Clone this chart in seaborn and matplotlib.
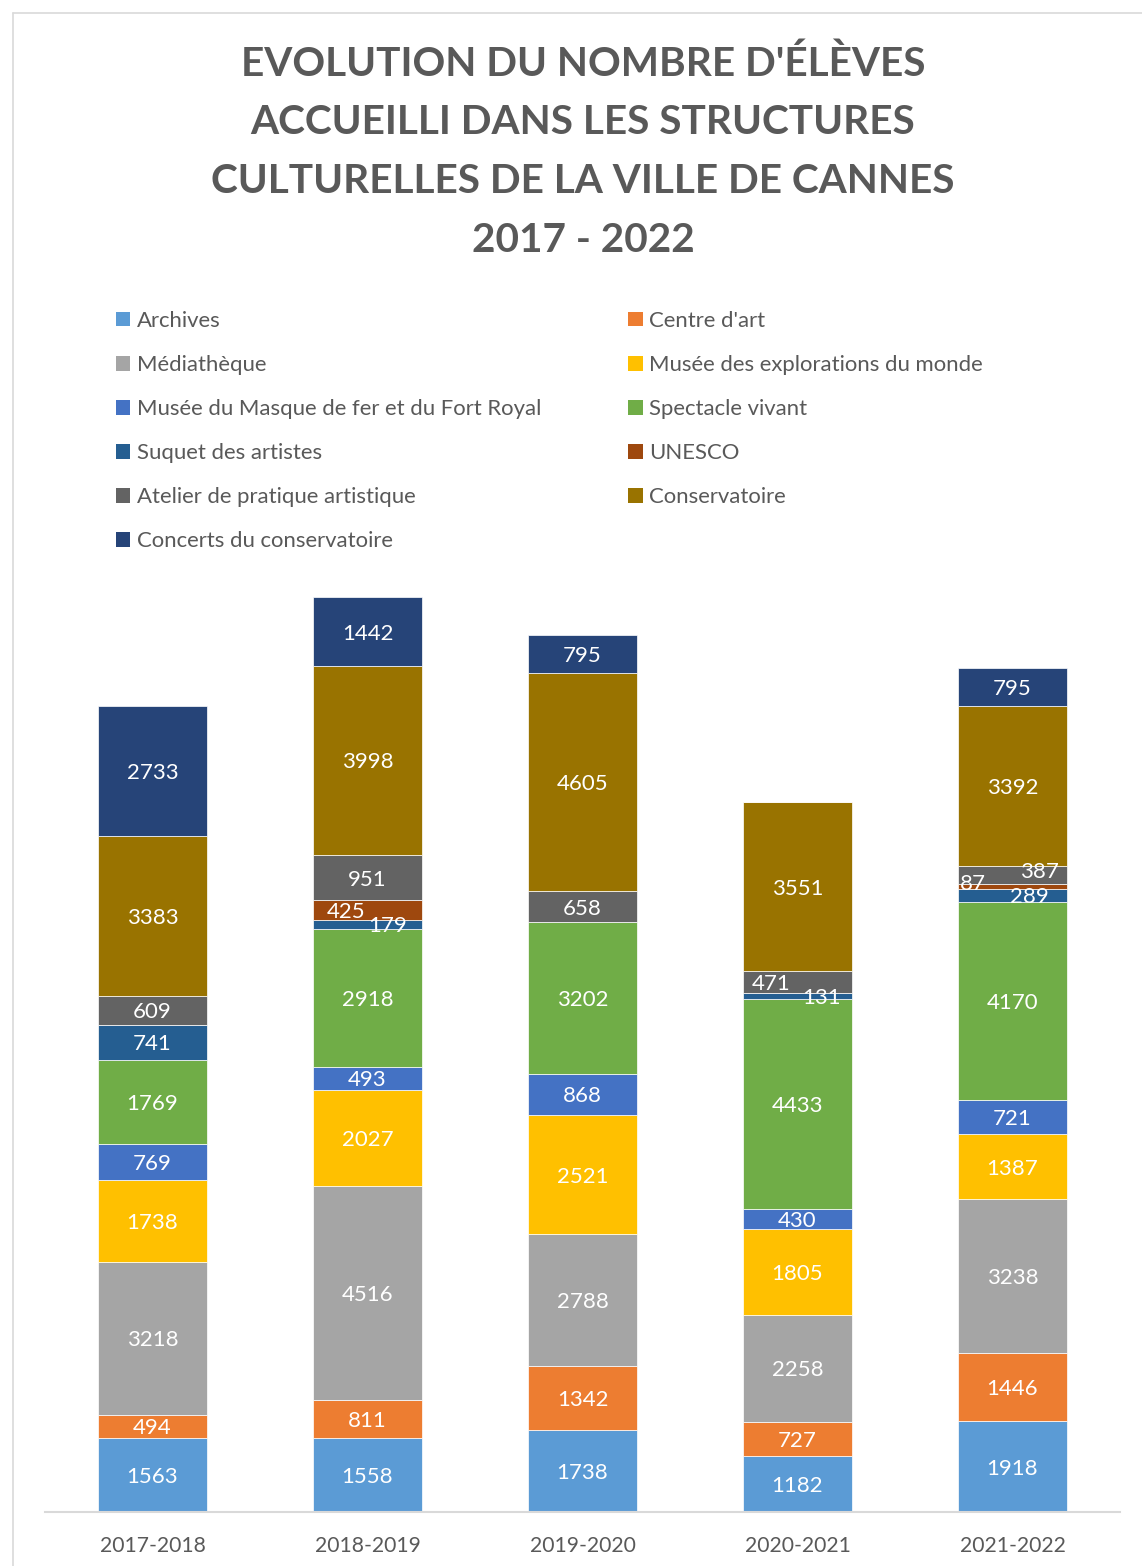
import numpy as np
import matplotlib
matplotlib.use("Agg")
import matplotlib.pyplot as plt
import seaborn as sns
from matplotlib.patches import Patch
from matplotlib.lines import Line2D

years = ["2017-2018", "2018-2019", "2019-2020", "2020-2021", "2021-2022"]

archives = [1563, 1558, 1738, 1182, 1918]
centre_art = [494, 811, 1342, 727, 1446]
mediatheque = [3218, 4516, 2788, 2258, 3238]
musee_explorations = [1738, 2027, 2521, 1805, 1387]
musee_masque = [769, 493, 868, 430, 721]
spectacle_vivant = [1769, 2918, 3202, 4433, 4170]
suquet = [741, 179, 0, 131, 289]
unesco = [0, 425, 0, 0, 87]
atelier = [609, 951, 658, 471, 387]
conservatoire = [3383, 3998, 4605, 3551, 3392]
concerts = [2733, 1442, 795, 0, 795]

series = [
    ("Archives", archives, "#5B9BD5"),
    ("Centre d'art", centre_art, "#ED7D31"),
    ("Médiathèque", mediatheque, "#A5A5A5"),
    ("Musée des explorations du monde", musee_explorations, "#FFC000"),
    ("Musée du Masque de fer et du Fort Royal", musee_masque, "#4472C4"),
    ("Spectacle vivant", spectacle_vivant, "#70AD47"),
    ("Suquet des artistes", suquet, "#255E91"),
    ("UNESCO", unesco, "#9E480E"),
    ("Atelier de pratique artistique", atelier, "#636363"),
    ("Conservatoire", conservatoire, "#997300"),
    ("Concerts du conservatoire", concerts, "#264478"),
]

# label nudges (pixels) for the thin segments, as in the original
nudges = {
    ("UNESCO", 1): (-21, 0),
    ("Suquet des artistes", 1): (20, 0),
    ("Atelier de pratique artistique", 3): (-26, 0),
    ("Suquet des artistes", 3): (24, 0),
    ("Suquet des artistes", 4): (17, 0),
    ("UNESCO", 4): (-40, 5),
    ("Atelier de pratique artistique", 4): (27, 5),
}

sns.set_style("white")
plt.rcParams["font.family"] = ["Lato", "DejaVu Sans"]
grey = "#595959"

W, H = 1142, 1566
fig = plt.figure(figsize=(W / 100, H / 100), dpi=100)
ax = fig.add_axes([45 / W, 1 - 1512 / H, (1120 - 45) / W, (1512 - 590) / H])

bottom = np.zeros(len(years))
for name, vals, color in series:
    vals = np.array(vals)
    sns.barplot(x=years, y=vals, bottom=bottom, color=color, saturation=1,
                width=0.51, edgecolor="white", linewidth=0.5, ax=ax, zorder=2)
    for j, v in enumerate(vals):
        if v <= 0:
            continue
        dx, dy = nudges.get((name, j), (0, 0))
        ax.annotate(str(v), (j, bottom[j] + v / 2), xytext=(dx, dy - 2),
                    textcoords="offset pixels", ha="center", va="center",
                    color="white", fontsize=16, zorder=5)
    bottom += vals

ax.set_xlim(-0.5, 4.5)
ax.set_ylim(0, 922 / 0.04734)
ax.set_yticks([])
ax.set_xlabel("")
ax.set_ylabel("")
for s in ["top", "left", "right"]:
    ax.spines[s].set_visible(False)
ax.spines["bottom"].set_color("#D9D9D9")
ax.spines["bottom"].set_linewidth(1.5)
ax.tick_params(axis="x", length=0, pad=17, labelsize=15.2, labelcolor=grey)

fig.text(583 / W, 1 - 152 / H,
         "EVOLUTION DU NOMBRE D'ÉLÈVES\nACCUEILLI DANS LES STRUCTURES\n"
         "CULTURELLES DE LA VILLE DE CANNES\n2017 - 2022",
         ha="center", va="center", fontsize=29.2, fontweight="bold",
         color=grey, linespacing=1.72)

# legend, filled row by row like the original
handles = [Patch(facecolor=c, edgecolor="none", label=n) for n, _, c in series]
order = list(range(0, len(series), 2)) + list(range(1, len(series), 2))
leg = fig.legend([handles[i] for i in order], [handles[i].get_label() for i in order],
                 ncol=2, loc="upper left", bbox_to_anchor=(96 / W, 1 - 291 / H),
                 frameon=False, fontsize=15.9, handlelength=0.65, handleheight=0.65,
                 handletextpad=0.3, labelspacing=1.09, columnspacing=3.95,
                 labelcolor=grey)

# chart frame
fig.add_artist(Line2D([13 / W, 13 / W], [0, 1 - 13 / H], color="#D9D9D9", lw=1.2))
fig.add_artist(Line2D([13 / W, 1], [1 - 13 / H, 1 - 13 / H], color="#D9D9D9", lw=1.2))

fig.savefig("out.png", dpi=100, facecolor="white")
